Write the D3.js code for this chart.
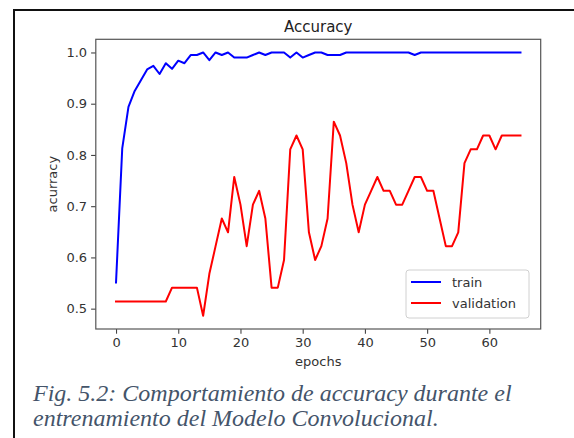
<!DOCTYPE html>
<html>
<head>
<meta charset="utf-8">
<script src="https://cdn.jsdelivr.net/npm/d3@7"></script>
<style>
  html, body { margin: 0; padding: 0; background: #fff; }
  svg { display: block; }
</style>
</head>
<body>
<svg id="chart" width="574" height="438"></svg>
<script>
// ---- data ----
const epochs = d3.range(0, 66);
const trainAcc = [
  0.551, 0.813, 0.894, 0.925, 0.946, 0.967, 0.974, 0.958, 0.979, 0.968,
  0.984, 0.979, 0.995, 0.995, 1.0, 0.985, 1.0, 0.995, 1.0, 0.99,
  0.99, 0.99, 0.995, 1.0, 0.995, 1.0, 1.0, 1.0, 0.99, 1.0,
  0.99, 0.995, 1.0, 1.0, 0.995, 0.995, 0.995, 1.0, 1.0, 1.0,
  1.0, 1.0, 1.0, 1.0, 1.0, 1.0, 1.0, 1.0, 0.995, 1.0,
  1.0, 1.0, 1.0, 1.0, 1.0, 1.0, 1.0, 1.0, 1.0, 1.0,
  1.0, 1.0, 1.0, 1.0, 1.0, 1.0
];
const valAcc = [
  0.514, 0.514, 0.514, 0.514, 0.514, 0.514, 0.514, 0.514, 0.514, 0.541,
  0.541, 0.541, 0.541, 0.541, 0.486, 0.568, 0.622, 0.676, 0.649, 0.757,
  0.703, 0.622, 0.703, 0.730, 0.676, 0.541, 0.541, 0.595, 0.811, 0.838,
  0.811, 0.649, 0.595, 0.622, 0.676, 0.865, 0.838, 0.784, 0.703, 0.649,
  0.703, 0.730, 0.757, 0.730, 0.730, 0.703, 0.703, 0.730, 0.757, 0.757,
  0.730, 0.730, 0.676, 0.622, 0.622, 0.649, 0.784, 0.811, 0.811, 0.838,
  0.838, 0.811, 0.838, 0.838, 0.838, 0.838
];
const xTicks = [0, 10, 20, 30, 40, 50, 60];
const yTicks = [0.5, 0.6, 0.7, 0.8, 0.9, 1.0];
const seriesNames = ["train", "validation"];
const seriesColors = ["#0000ff", "#ff0000"];
const titleText = "Accuracy";
const xLabel = "epochs";
const yLabel = "acurracy";
const captionLines = [
  "Fig. 5.2: Comportamiento de accuracy durante el",
  "entrenamiento del Modelo Convolucional."
];

// ---- layout ----
const svg = d3.select("#chart");
const plot = { left: 95.8, right: 540.7, top: 39.3, bottom: 329 };

// outer frame (only left & top edges visible in crop)
svg.append("rect")
  .attr("x", 14).attr("y", 10)
  .attr("width", 640).attr("height", 500)
  .attr("fill", "none").attr("stroke", "#111").attr("stroke-width", 2);

// scales with matplotlib-style 5% margins
const xMin = d3.min(epochs), xMax = d3.max(epochs);
const xPad = (xMax - xMin) * 0.05;
const x = d3.scaleLinear().domain([xMin - xPad, xMax + xPad]).range([plot.left, plot.right]);
const allVals = trainAcc.concat(valAcc);
const yMin = d3.min(allVals), yMax = d3.max(allVals);
const yPad = (yMax - yMin) * 0.05;
const y = d3.scaleLinear().domain([yMin - yPad, yMax + yPad]).range([plot.bottom, plot.top]);

const tickColor = "#333";
const fontFam = "'DejaVu Sans', sans-serif";

// axes
const xAxis = d3.axisBottom(x).tickValues(xTicks).tickFormat(d3.format("d")).tickSizeOuter(0).tickSize(4.7).tickPadding(4);
const yAxis = d3.axisLeft(y).tickValues(yTicks).tickFormat(d3.format(".1f")).tickSizeOuter(0).tickSize(4.7).tickPadding(4);

const gx = svg.append("g").attr("transform", `translate(0,${plot.bottom})`).call(xAxis);
const gy = svg.append("g").attr("transform", `translate(${plot.left},0)`).call(yAxis);
[gx, gy].forEach(g => {
  g.select(".domain").remove();
  g.selectAll(".tick line").attr("stroke", "#444").attr("stroke-width", 1.1);
  g.selectAll(".tick text").attr("fill", tickColor).style("font-family", fontFam).style("font-size", "13px");
});

// lines
const line = d3.line().x((d, i) => x(epochs[i])).y(d => y(d));
[trainAcc, valAcc].forEach((s, k) => {
  svg.append("path").datum(s)
    .attr("d", line)
    .attr("fill", "none")
    .attr("stroke", seriesColors[k])
    .attr("stroke-width", 2)
    .attr("stroke-linejoin", "round")
    .attr("stroke-linecap", "square");
});

// plot frame
svg.append("rect")
  .attr("x", plot.left).attr("y", plot.top)
  .attr("width", plot.right - plot.left).attr("height", plot.bottom - plot.top)
  .attr("fill", "none").attr("stroke", "#555").attr("stroke-width", 1.2);

// title & labels
svg.append("text").attr("x", (plot.left + plot.right) / 2).attr("y", 32)
  .attr("text-anchor", "middle").attr("fill", "#222")
  .style("font-family", fontFam).style("font-size", "15px").text(titleText);
svg.append("text").attr("x", (plot.left + plot.right) / 2).attr("y", 366)
  .attr("text-anchor", "middle").attr("fill", tickColor)
  .style("font-family", fontFam).style("font-size", "13px").text(xLabel);
svg.append("text")
  .attr("transform", `translate(57,${(plot.top + plot.bottom) / 2}) rotate(-90)`)
  .attr("text-anchor", "middle").attr("fill", tickColor)
  .style("font-family", fontFam).style("font-size", "13px").text(yLabel);

// legend
const lg = svg.append("g");
lg.append("rect").attr("x", 406).attr("y", 270).attr("width", 123).attr("height", 48)
  .attr("rx", 3).attr("fill", "rgba(255,255,255,0.85)").attr("stroke", "#d0d0d0").attr("stroke-width", 1);
seriesNames.forEach((n, i) => {
  const yy = 282 + i * 21;
  lg.append("line").attr("x1", 411).attr("x2", 441).attr("y1", yy).attr("y2", yy)
    .attr("stroke", seriesColors[i]).attr("stroke-width", 2);
  lg.append("text").attr("x", 452).attr("y", yy + 4.5).attr("fill", tickColor)
    .style("font-family", fontFam).style("font-size", "13px").text(n);
});

// caption
captionLines.forEach((t, i) => {
  svg.append("text").attr("x", 33).attr("y", 401 + i * 25)
    .attr("fill", "#44546a")
    .style("font-family", "'Liberation Serif', 'Times New Roman', serif")
    .style("font-style", "italic").style("font-size", "24px").text(t);
});
</script>
</body>
</html>
